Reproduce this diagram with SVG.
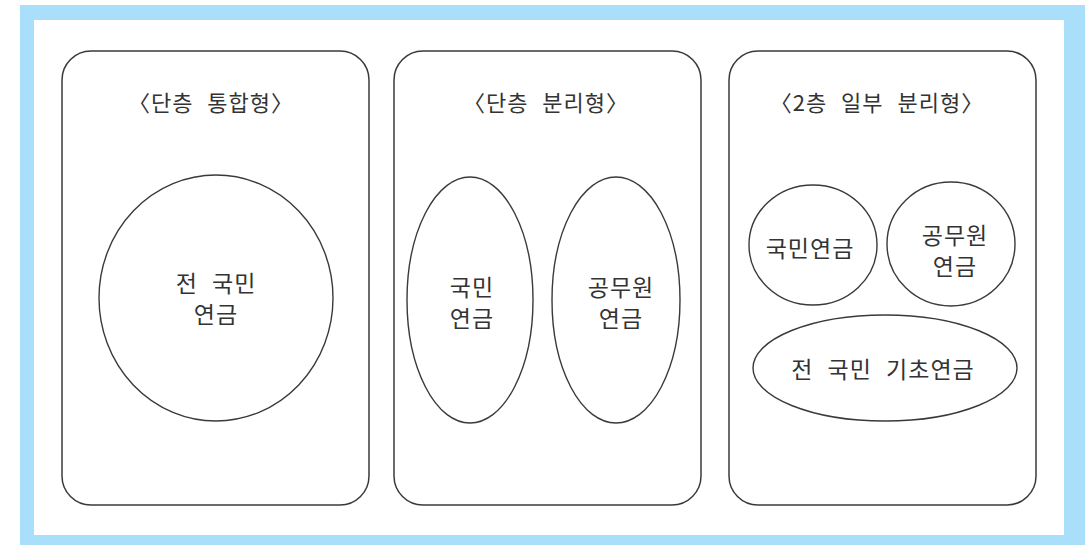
<svg xmlns="http://www.w3.org/2000/svg" width="1085" height="545" viewBox="0 0 1085 545">
<style>
.panel{fill:#ffffff;stroke:#3a3a3a;stroke-width:1.5}
.shape{fill:#ffffff;stroke:#3a3a3a;stroke-width:1.4}
.t{font-family:"Noto Sans CJK KR","Noto Sans",sans-serif;font-size:23px;fill:#333333;text-anchor:middle;letter-spacing:1px;word-spacing:8px}
.title{font-family:"Noto Sans CJK KR","Noto Sans",sans-serif;font-size:22px;fill:#333333;text-anchor:middle;letter-spacing:1px;word-spacing:8px}
</style>
<g id="frame">
<rect x="20" y="5" width="1065" height="540" fill="#a9dffa"/>
<rect x="34" y="20" width="1030" height="515" fill="#ffffff"/>
</g>
<g id="panel-single-integrated">
<rect class="panel" x="62" y="51" width="307" height="454" rx="29" ry="29"/>
<text class="title" x="211" y="111">〈단층 통합형〉</text>
<ellipse class="shape" cx="216" cy="298" rx="117" ry="123"/>
<text class="t" x="216" y="292">전 국민</text>
<text class="t" x="216" y="323">연금</text>
</g>
<g id="panel-single-separated">
<rect class="panel" x="394" y="51" width="307" height="454" rx="29" ry="29"/>
<text class="title" x="546" y="111">〈단층 분리형〉</text>
<ellipse class="shape" cx="470" cy="300" rx="63" ry="123"/>
<text class="t" x="472" y="296">국민</text>
<text class="t" x="472" y="327">연금</text>
<ellipse class="shape" cx="616" cy="300" rx="64" ry="123"/>
<text class="t" x="621" y="296">공무원</text>
<text class="t" x="621" y="327">연금</text>
</g>
<g id="panel-two-tier">
<rect class="panel" x="729" y="51" width="307" height="454" rx="29" ry="29"/>
<text class="title" x="877" y="111">〈2층 일부 분리형〉</text>
<ellipse class="shape" cx="813" cy="245" rx="64" ry="60"/>
<text class="t" x="810" y="257">국민연금</text>
<ellipse class="shape" cx="951" cy="244" rx="64" ry="62"/>
<text class="t" x="955" y="244" font-size="22">공무원</text>
<text class="t" x="955" y="275" font-size="22">연금</text>
<ellipse class="shape" cx="885" cy="368" rx="132" ry="53"/>
<text class="t" x="883" y="378">전 국민 기초연금</text>
</g>
<g id="connectors"></g>
</svg>
